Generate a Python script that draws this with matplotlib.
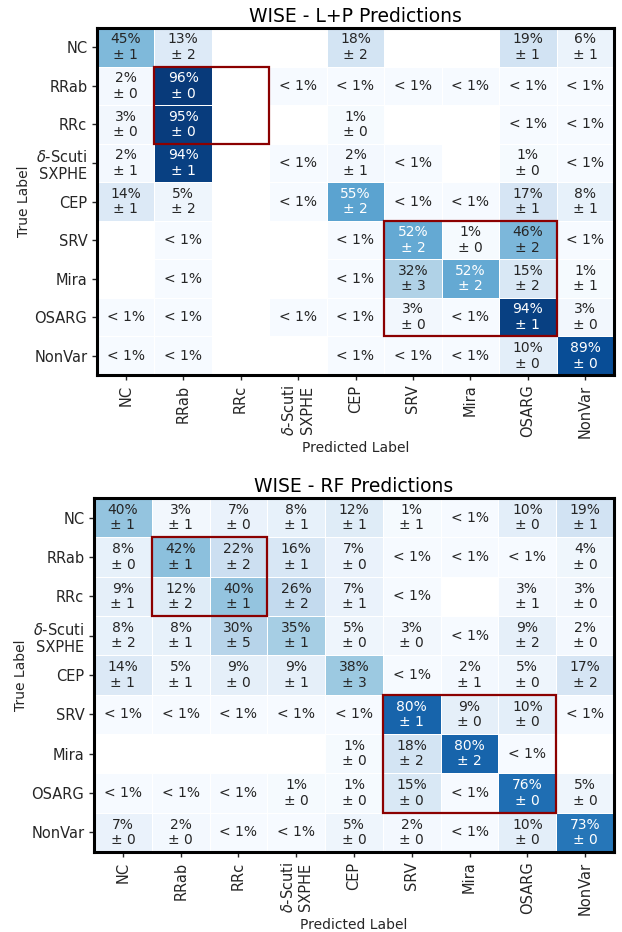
import numpy as np
import matplotlib.pyplot as plt
from matplotlib.patches import Rectangle

CLASSES = ["NC", "RRab", "RRc", "$\\delta$-Scuti\nSXPHE", "CEP", "SRV",
           "Mira", "OSARG", "NonVar"]

# percent values; nan = empty cell, 0.5 = "< 1%"
N = np.nan
LP_MEAN = [
    [45, 13, N, N, 18, N, N, 19, 6],
    [2, 96, N, 0.5, 0.5, 0.5, 0.5, 0.5, 0.5],
    [3, 95, N, N, 1, N, N, 0.5, 0.5],
    [2, 94, N, 0.5, 2, 0.5, N, 1, 0.5],
    [14, 5, N, 0.5, 55, 0.5, 0.5, 17, 8],
    [N, 0.5, N, N, 0.5, 52, 1, 46, 0.5],
    [N, 0.5, N, N, 0.5, 32, 52, 15, 1],
    [0.5, 0.5, N, 0.5, 0.5, 3, 0.5, 94, 3],
    [0.5, 0.5, N, N, 0.5, 0.5, 0.5, 10, 89],
]
LP_ERR = [
    [1, 2, N, N, 2, N, N, 1, 1],
    [0, 0, N, N, N, N, N, N, N],
    [0, 0, N, N, 0, N, N, N, N],
    [1, 1, N, N, 1, N, N, 0, N],
    [1, 2, N, N, 2, N, N, 1, 1],
    [N, N, N, N, N, 2, 0, 2, N],
    [N, N, N, N, N, 3, 2, 2, 1],
    [N, N, N, N, N, 0, N, 1, 0],
    [N, N, N, N, N, N, N, 0, 0],
]
RF_MEAN = [
    [40, 3, 7, 8, 12, 1, 0.5, 10, 19],
    [8, 42, 22, 16, 7, 0.5, 0.5, 0.5, 4],
    [9, 12, 40, 26, 7, 0.5, N, 3, 3],
    [8, 8, 30, 35, 5, 3, 0.5, 9, 2],
    [14, 5, 9, 9, 38, 0.5, 2, 5, 17],
    [0.5, 0.5, 0.5, 0.5, 0.5, 80, 9, 10, 0.5],
    [N, N, N, N, 1, 18, 80, 0.5, N],
    [0.5, 0.5, 0.5, 1, 1, 15, 0.5, 76, 5],
    [7, 2, 0.5, 0.5, 5, 2, 0.5, 10, 73],
]
RF_ERR = [
    [1, 1, 0, 1, 1, 1, N, 0, 1],
    [0, 1, 2, 1, 0, N, N, N, 0],
    [1, 2, 1, 2, 1, N, N, 1, 0],
    [2, 1, 5, 1, 0, 0, N, 2, 0],
    [1, 1, 0, 1, 3, N, 1, 0, 2],
    [N, N, N, N, N, 1, 0, 0, N],
    [N, N, N, N, 0, 2, 2, N, N],
    [N, N, N, 0, 0, 0, N, 0, 0],
    [0, 0, N, N, 0, 0, N, 0, 0],
]

# boxes: (col0, row0, ncols, nrows)
BOXES = [(1, 1, 2, 2), (5, 5, 3, 3)]

TXT = "#262626"


def draw_cm(ax, mean, err, title):
    mean = np.array(mean, dtype=float)
    err = np.array(err, dtype=float)
    n = mean.shape[0]
    data = np.ma.masked_invalid(mean)
    ax.pcolormesh(np.arange(n + 1), np.arange(n + 1), data, cmap="Blues",
                  vmin=0, vmax=100, edgecolors="white", linewidth=0.6)
    ax.set_xlim(0, n)
    ax.set_ylim(n, 0)
    for i in range(n):
        for j in range(n):
            v = mean[i, j]
            if np.isnan(v):
                continue
            c = "white" if v > 50 else TXT
            if v < 1:
                s = "< 1%"
            else:
                s = f"{v:.0f}%\n\u00b1 {err[i, j]:.0f}"
            ax.text(j + 0.5, i + 0.5, s, ha="center", va="center",
                    fontsize=10, color=c, linespacing=1.15)
    for c0, r0, w, h in BOXES:
        ax.add_patch(Rectangle((c0, r0), w, h, fill=False,
                               edgecolor="#8b0000", linewidth=1.6, zorder=5))
    ax.set_xticks(np.arange(n) + 0.5)
    ax.set_xticklabels(CLASSES, rotation=90, fontsize=10.5, color=TXT,
                       ha="center", va="top", multialignment="center")
    ax.set_yticks(np.arange(n) + 0.5)
    ax.set_yticklabels(CLASSES, fontsize=10.5, color=TXT,
                       multialignment="right")
    ax.tick_params(length=3.5, width=1, color=TXT)
    for sp in ax.spines.values():
        sp.set_linewidth(2.2)
        sp.set_color("black")
    ax.set_xlabel("Predicted Label", fontsize=10, color=TXT, labelpad=2)
    ax.set_ylabel("True Label", fontsize=10, color=TXT, labelpad=2)
    ax.set_title(title, fontsize=13.5, pad=4)


fig = plt.figure(figsize=(6.22, 9.32), dpi=100)
ax1 = fig.add_axes([97 / 622, 1 - 375 / 932, 517 / 622, 347 / 932])
ax2 = fig.add_axes([94 / 622, 1 - 852 / 932, 520 / 622, 354 / 932])

draw_cm(ax1, LP_MEAN, LP_ERR, "WISE - L+P Predictions")
draw_cm(ax2, RF_MEAN, RF_ERR, "WISE - RF Predictions")

fig.savefig("out.png", dpi=100)
